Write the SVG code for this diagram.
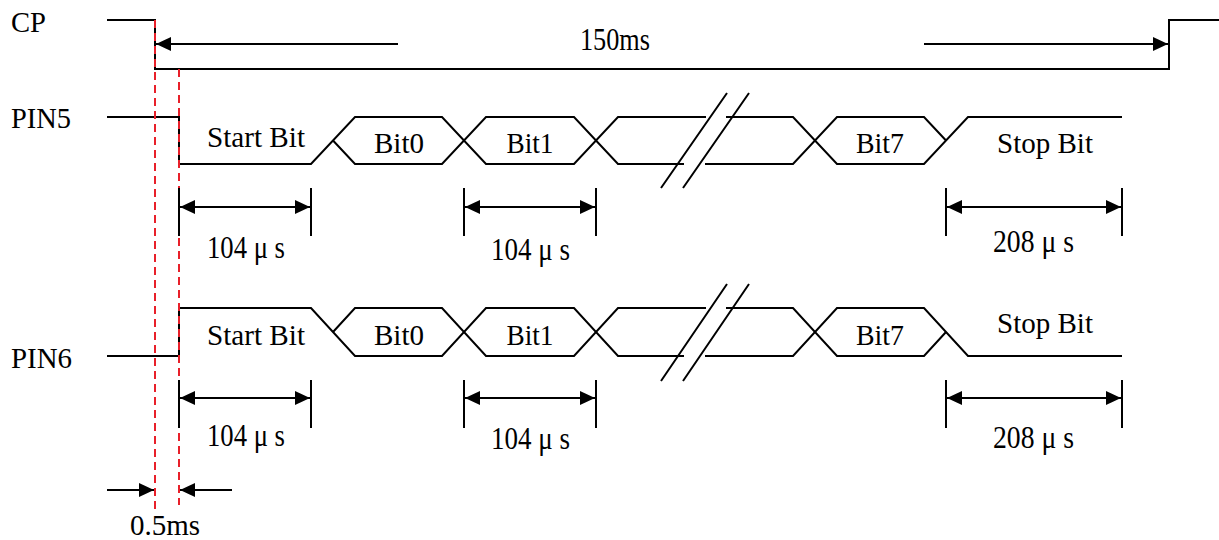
<svg xmlns="http://www.w3.org/2000/svg" width="1219" height="540" viewBox="0 0 1219 540">
<style>
.w{fill:none;stroke:#000;stroke-width:2}
.d{fill:none;stroke:#000;stroke-width:2;marker-start:url(#ah);marker-end:url(#ah)}
.s{fill:none;stroke:#000;stroke-width:2;marker-end:url(#ah)}
.r{fill:none;stroke:#e8202a;stroke-width:2;stroke-dasharray:8 5}
text{font-family:"Liberation Serif","Times New Roman",serif;fill:#000}
.lb{font-size:29px}
.bt{font-size:30px;text-anchor:middle}
.m{font-size:32px}
</style>
<defs>
<marker id="ah" markerUnits="userSpaceOnUse" markerWidth="16" markerHeight="16" refX="15" refY="7" orient="auto-start-reverse">
<path d="M0,0 L15,7 L0,14 Z" fill="#000"/>
</marker>
</defs>
<rect width="1219" height="540" fill="#fff"/>
<g id="cp">
<text class="lb" x="11" y="32" textLength="35" lengthAdjust="spacingAndGlyphs">CP</text>
<path class="w" d="M107,20 H155 V69 H1169 V20 H1219"/>
</g>
<g id="pin5">
<text class="lb" x="11" y="128" textLength="60" lengthAdjust="spacingAndGlyphs">PIN5</text>
<path class="w" d="M107,117 H179 V164 H311 L355,117 H442 L486,164 H574 L618,117 H706 M726,117 H793 L837,164 H924 L968,117 H1122"/>
<path class="w" d="M333,140.5 L355,164 H442 L486,117 H574 L618,164 H684 M705,164 H793 L837,117 H924 L946,140.5"/>
<path class="w" d="M661,188 L727,93 M683,188 L749,93"/>
<text class="bt" x="256" y="147" textLength="98" lengthAdjust="spacingAndGlyphs">Start Bit</text>
<text class="bt" x="399" y="153" textLength="50" lengthAdjust="spacingAndGlyphs">Bit0</text>
<text class="bt" x="530" y="153" textLength="47" lengthAdjust="spacingAndGlyphs">Bit1</text>
<text class="bt" x="880" y="153" textLength="48" lengthAdjust="spacingAndGlyphs">Bit7</text>
<text class="bt" x="1045" y="153" textLength="96" lengthAdjust="spacingAndGlyphs">Stop Bit</text>
</g>
<g id="pin6">
<text class="lb" x="11" y="368" textLength="61" lengthAdjust="spacingAndGlyphs">PIN6</text>
<path class="w" d="M107,356 H179 V308 H311 L355,356 H442 L486,308 H574 L618,356 H684 M705,356 H793 L837,308 H924 L968,356 H1122"/>
<path class="w" d="M333,332 L355,308 H442 L486,356 H574 L618,308 H706 M726,308 H793 L837,356 H924 L946,332"/>
<path class="w" d="M661,381 L727,284 M683,381 L749,284"/>
<text class="bt" x="256" y="345" textLength="98" lengthAdjust="spacingAndGlyphs">Start Bit</text>
<text class="bt" x="399" y="345" textLength="50" lengthAdjust="spacingAndGlyphs">Bit0</text>
<text class="bt" x="530" y="345" textLength="47" lengthAdjust="spacingAndGlyphs">Bit1</text>
<text class="bt" x="880" y="345" textLength="48" lengthAdjust="spacingAndGlyphs">Bit7</text>
<text class="bt" x="1045" y="333" textLength="96" lengthAdjust="spacingAndGlyphs">Stop Bit</text>
</g>
<g id="guides">
<line class="r" x1="155" y1="20" x2="155" y2="510"/>
<line class="r" x1="179" y1="69" x2="179" y2="505"/>
</g>
<g id="connectors">
<line class="s" x1="398" y1="44" x2="156" y2="44"/>
<line class="s" x1="924" y1="44" x2="1168" y2="44"/>
<path class="w" d="M179,188 V236 M311,188 V236 M464,188 V236 M596,188 V236 M946,188 V236 M1122,188 V236"/>
<line class="d" x1="180" y1="207" x2="310" y2="207"/>
<line class="d" x1="465" y1="207" x2="595" y2="207"/>
<line class="d" x1="947" y1="207" x2="1121" y2="207"/>
<path class="w" d="M179,380 V428 M311,380 V428 M464,380 V428 M596,380 V428 M946,380 V428 M1122,380 V428"/>
<line class="d" x1="180" y1="398" x2="310" y2="398"/>
<line class="d" x1="465" y1="398" x2="595" y2="398"/>
<line class="d" x1="947" y1="398" x2="1121" y2="398"/>
<line class="s" x1="107" y1="490" x2="154" y2="490"/>
<line class="s" x1="232" y1="490" x2="180" y2="490"/>
</g>
<g id="labels">
<text class="m" x="580" y="50" textLength="70" lengthAdjust="spacingAndGlyphs">150ms</text>
<text class="m" x="207" y="258" textLength="78" lengthAdjust="spacingAndGlyphs">104 μ s</text>
<text class="m" x="491" y="260" textLength="79" lengthAdjust="spacingAndGlyphs">104 μ s</text>
<text class="m" x="993" y="252" textLength="81" lengthAdjust="spacingAndGlyphs">208 μ s</text>
<text class="m" x="207" y="446" textLength="78" lengthAdjust="spacingAndGlyphs">104 μ s</text>
<text class="m" x="491" y="449" textLength="79" lengthAdjust="spacingAndGlyphs">104 μ s</text>
<text class="m" x="993" y="448" textLength="81" lengthAdjust="spacingAndGlyphs">208 μ s</text>
<text class="lb" x="130" y="535" textLength="70" lengthAdjust="spacingAndGlyphs">0.5ms</text>
</g>
</svg>
